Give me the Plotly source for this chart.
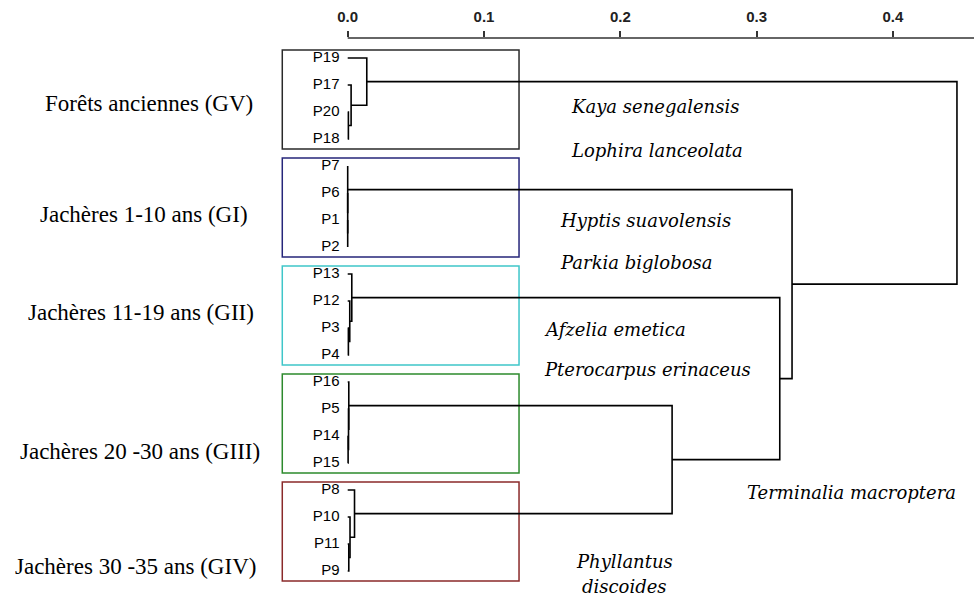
import plotly.graph_objects as go

# ---------------- data ----------------
leaves = ["P19", "P17", "P20", "P18",
          "P7", "P6", "P1", "P2",
          "P13", "P12", "P3", "P4",
          "P16", "P5", "P14", "P15",
          "P8", "P10", "P11", "P9"]

# agglomeration steps: child a, child b, linkage distance  (Nk = k-th merge)
merge_a = ["P20", "P17", "P19", "P1", "P6", "P7", "P3", "P12", "P13",
           "P14", "P5", "P16", "P11", "P10", "P8", "N12", "N9", "N6", "N3"]
merge_b = ["P18", "N1", "N2", "P2", "N4", "N5", "P4", "N7", "N8",
           "P15", "N10", "N11", "P9", "N13", "N14", "N15", "N16", "N17", "N18"]
merge_h = [0.0005, 0.0025, 0.014, 0.0, 0.0, 0.0, 0.0005, 0.0015, 0.003,
           0.0003, 0.0006, 0.0008, 0.0008, 0.0017, 0.005, 0.238, 0.317, 0.326, 0.447]

group_names = ["Forêts anciennes (GV)", "Jachères 1-10 ans (GI)", "Jachères 11-19 ans (GII)",
               "Jachères 20 -30 ans (GIII)", "Jachères 30 -35 ans (GIV)"]
group_first = ["P19", "P7", "P13", "P16", "P8"]
group_last = ["P18", "P2", "P4", "P15", "P9"]
group_colors = ["#2a2a2a", "#26267a", "#3fc6c9", "#2d8a2d", "#8a2a2a"]

species = ["Kaya senegalensis", "Lophira lanceolata", "Hyptis suavolensis", "Parkia biglobosa",
           "Afzelia emetica", "Pterocarpus erinaceus", "Terminalia macroptera", "Phyllantus", "discoides"]

tick_vals = [0.0, 0.1, 0.2, 0.3, 0.4]
tick_text = ["0.0", "0.1", "0.2", "0.3", "0.4"]

# ---------------- dendrogram geometry ----------------
pos = {name: (0.0, i) for i, name in enumerate(leaves)}
xs, ys = [], []
for k, (a, b, h) in enumerate(zip(merge_a, merge_b, merge_h)):
    ha, ya = pos[a]
    hb, yb = pos[b]
    xs += [ha, h, h, hb, None]
    ys += [ya, ya, yb, yb, None]
    pos["N%d" % (k + 1)] = (h, (ya + yb) / 2)

XMIN, XMAX = -0.2551, 0.4595
YMIN, YMAX = -0.741, 20.037

fig = go.Figure()
fig.add_trace(go.Scatter(x=xs, y=ys, mode="lines",
                         line=dict(color="black", width=1.6),
                         hoverinfo="skip", showlegend=False))
fig.add_trace(go.Scatter(x=[-0.006] * len(leaves), y=list(range(len(leaves))),
                         mode="text", text=leaves, textposition="middle left",
                         textfont=dict(family="Liberation Sans, Arial", size=15, color="black"),
                         hoverinfo="skip", showlegend=False))

shapes = []
for f, l, c in zip(group_first, group_last, group_colors):
    i0, i1 = leaves.index(f), leaves.index(l)
    shapes.append(dict(type="rect", xref="x", yref="y",
                       x0=-0.048, x1=0.1257, y0=i0 - 0.3, y1=i1 + 0.37,
                       line=dict(color=c, width=1.5), fillcolor="rgba(0,0,0,0)",
                       layer="below"))
# top axis line starting at 0
shapes.append(dict(type="line", xref="x", yref="paper", x0=0, x1=XMAX, y0=1, y1=1,
                   line=dict(color="#333333", width=1.5)))

annotations = []
grp_x = [-0.068, -0.0717, -0.0673, -0.0629, -0.0658]
grp_y = [1.667, 5.81, 9.44, 14.59, 18.85]
for t, x, y in zip(group_names, grp_x, grp_y):
    annotations.append(dict(text=t, x=x, y=y, xref="x", yref="y", showarrow=False,
                            xanchor="right", yanchor="middle",
                            font=dict(family="Liberation Serif, Times New Roman", size=23, color="black")))

sp_x = [0.1624, 0.1624, 0.1543, 0.1543, 0.1426, 0.1426, 0.2916, 0.2034, 0.2034]
sp_y = [1.81, 3.41, 6.0, 7.56, 10.04, 11.52, 16.11, 18.63, 19.59]
sp_anchor = ["left"] * 7 + ["center", "center"]
for t, x, y, a in zip(species, sp_x, sp_y, sp_anchor):
    annotations.append(dict(text="<i>%s</i>" % t, x=x, y=y, xref="x", yref="y", showarrow=False,
                            xanchor=a, yanchor="middle",
                            font=dict(family="DejaVu Serif", size=18, color="black")))

fig.update_layout(
    width=974, height=599,
    margin=dict(l=0, r=0, t=38, b=0, pad=0),
    paper_bgcolor="white", plot_bgcolor="white",
    shapes=shapes, annotations=annotations,
    xaxis=dict(range=[XMIN, XMAX], side="top", showgrid=False, zeroline=False,
               showline=False, ticks="outside", ticklen=6, tickwidth=2, tickcolor="#333333",
               tickvals=tick_vals, ticktext=tick_text, ticklabelstandoff=3,
               tickfont=dict(family="Liberation Sans, Arial", size=15, color="#222222", weight="bold")),
    yaxis=dict(range=[YMAX, YMIN], visible=False),
    showlegend=False,
)

fig.write_html("out.html", config={"displayModeBar": False},
               post_script="document.body.style.margin='0px';document.body.style.padding='0px';")
